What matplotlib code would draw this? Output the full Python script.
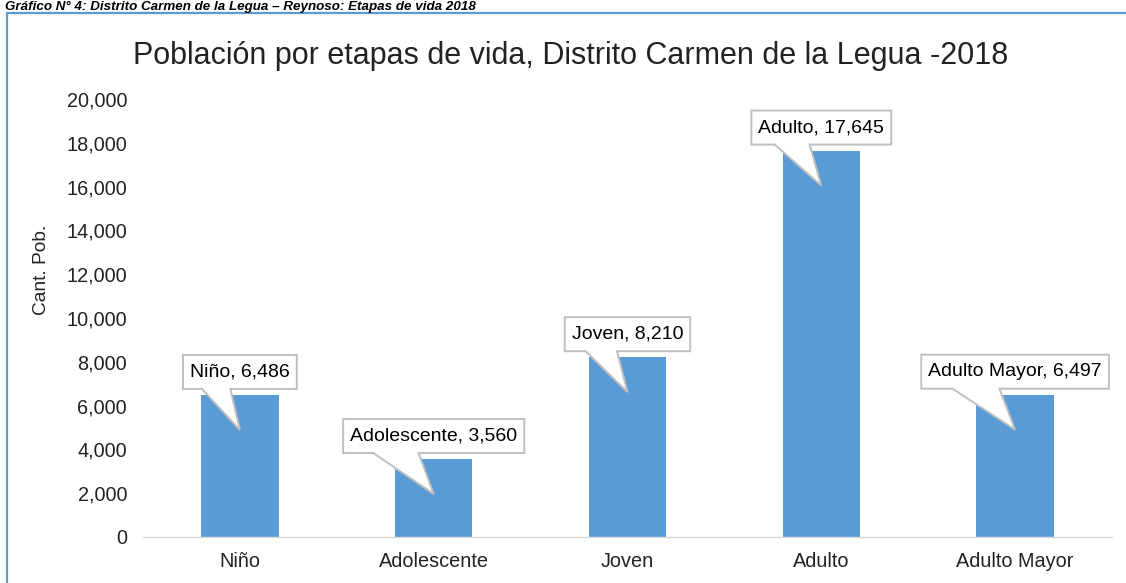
import matplotlib
matplotlib.use("Agg")
import matplotlib.pyplot as plt
from matplotlib.patches import Polygon, Rectangle
from matplotlib.transforms import IdentityTransform
from matplotlib.ticker import FuncFormatter

categories = ["Niño", "Adolescente", "Joven", "Adulto", "Adulto Mayor"]
values = [6486, 3560, 8210, 17645, 6497]
yticks = [0, 2000, 4000, 6000, 8000, 10000, 12000, 14000, 16000, 18000, 20000]

title = "Población por etapas de vida, Distrito Carmen de la Legua -2018"
caption = "Gráfico N° 4: Distrito Carmen de la Legua – Reynoso: Etapas de vida 2018"
ylabel = "Cant. Pob."

plt.rcParams['font.family'] = ['Liberation Sans', 'DejaVu Sans']

W, H = 1126, 583
fig = plt.figure(figsize=(W / 100, H / 100), dpi=100)
fig.patch.set_facecolor("white")

# outer frame (partially out of view)
frame = Rectangle((7 / W, -0.2), 1.3, (1 - 13 / H) + 0.2, transform=fig.transFigure,
                  fill=False, edgecolor="#5b9bd5", linewidth=1.6, zorder=0)
fig.add_artist(frame)
# caption at the very top
fig.text(5 / W, 1 - 1 / H, caption, fontsize=9.6, fontweight="bold", style="italic",
         ha="left", va="top", color="#000000")

ax = fig.add_axes([143 / W, 1 - 537 / H, (1112 - 143) / W, (537 - 99) / H])
x = list(range(len(categories)))
ax.bar(x, values, width=0.4, color="#5b9bd5", zorder=2)
ax.set_xlim(-0.5, len(categories) - 0.5)
ax.set_ylim(0, 20000)
ax.set_yticks(yticks)
ax.yaxis.set_major_formatter(FuncFormatter(lambda v, p: f"{int(v):,}"))
ax.set_xticks(x)
ax.set_xticklabels(categories)
for s in ["top", "right", "left"]:
    ax.spines[s].set_visible(False)
ax.spines["bottom"].set_color("#d9d9d9")
ax.spines["bottom"].set_linewidth(1.0)
ax.tick_params(axis="y", length=0, pad=11.5, labelsize=14.3, labelcolor="#222222")
ax.tick_params(axis="x", length=0, pad=10.5, labelsize=14.3, labelcolor="#222222")

fig.text(571 / W, 1 - 64 / H, title, fontsize=22, ha="center", va="baseline", color="#222222")
fig.text(41 / W, 1 - 270 / H, ylabel, fontsize=13.8, rotation=90, ha="center", va="center",
         color="#222222")

fig.canvas.draw()
renderer = fig.canvas.get_renderer()

for i, (cat, val) in enumerate(zip(categories, values)):
    cx, top = ax.transData.transform((i, val))
    label = f"{cat}, {val:,}"
    B = top + 6
    Hb = 34
    t = ax.text(cx, B + Hb / 2, label, transform=IdentityTransform(), ha="center",
                va="center", fontsize=14, color="#000000", zorder=6, clip_on=False)
    tw = t.get_window_extent(renderer).width
    w = tw + 14
    L, R = cx - w / 2, cx + w / 2
    pts = [(L, B), (L + w / 6, B), (cx, top - 35), (L + 5 * w / 12, B), (R, B),
           (R, B + Hb), (L, B + Hb)]
    poly = Polygon(pts, closed=True, transform=IdentityTransform(), facecolor="white",
                   edgecolor="#bfbfbf", linewidth=1.4, zorder=5, clip_on=False)
    ax.add_artist(poly)

fig.savefig("out.png", dpi=100, facecolor="white")
